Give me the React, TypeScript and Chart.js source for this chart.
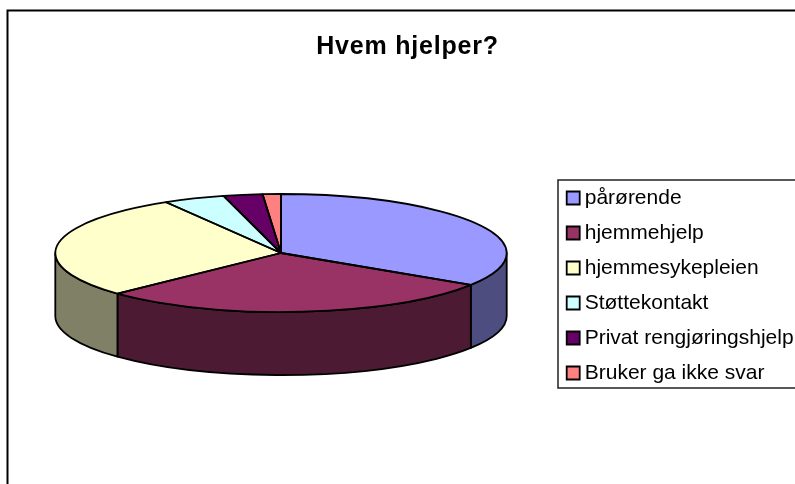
import React, { useEffect, useRef } from "react";
import { Chart, registerables } from "chart.js";

Chart.register(...registerables);

const titleText = "Hvem hjelper?";
const categories = [
  "pårørende",
  "hjemmehjelp",
  "hjemmesykepleien",
  "Støttekontakt",
  "Privat rengjøringshjelp",
  "Bruker ga ikke svar",
];
const shares = [34.1, 28.8, 28.6, 4.4, 2.8, 1.3];
const sliceColors = ["#9999ff", "#993366", "#ffffcc", "#ccffff", "#660066", "#ff8080"];

const PIE = { cx: 281, cy: 253, rx: 225.7, ry: 59, depth: 63 };
const LEGEND = { left: 558, top: 180, bottom: 388, itemsLeft: 552.7, itemsTop: 173.5, textShift: -5.5 };
const FRAME = { left: 7.5, top: 10.5 };
const LEGEND_SPACING = "0px";
const TITLE_SPACING = "0.8px";

const halve = (hex: string) => {
  const n = parseInt(hex.slice(1), 16);
  const c = (s: number) => Math.round(((n >> s) & 255) / 2);
  return `rgb(${c(16)},${c(8)},${c(0)})`;
};

const pie3d = {
  id: "pie3d",
  beforeUpdate(chart: any) {
    const wrap = (box: any, spacing: string, shift: number) => {
      if (!box || box.__wrapped) return;
      const draw = box.draw.bind(box);
      box.draw = (...args: any[]) => {
        const ctx = chart.ctx;
        const fillText = ctx.fillText;
        ctx.fillText = (t: string, x: number, y: number, m?: number) =>
          m === undefined
            ? fillText.call(ctx, t, x + shift, y)
            : fillText.call(ctx, t, x + shift, y, m);
        ctx.save();
        ctx.letterSpacing = spacing;
        draw(...args);
        ctx.restore();
        delete ctx.fillText;
      };
      box.__wrapped = true;
    };
    wrap(chart.legend, LEGEND_SPACING, LEGEND.textShift);
    wrap(chart.titleBlock, TITLE_SPACING, 0);
  },
  afterLayout(chart: any) {
    const lg = chart.legend;
    const h = lg.bottom - lg.top;
    lg.left = LEGEND.itemsLeft;
    lg.right = chart.width + 20;
    lg.top = LEGEND.itemsTop;
    lg.bottom = lg.top + h;
  },
  beforeDraw(chart: any) {
    const ctx = chart.ctx;
    ctx.save();
    ctx.strokeStyle = "#000";
    ctx.lineWidth = 2;
    ctx.beginPath();
    ctx.moveTo(FRAME.left, chart.height);
    ctx.lineTo(FRAME.left, FRAME.top);
    ctx.lineTo(chart.width, FRAME.top);
    ctx.stroke();
    ctx.lineWidth = 1.5;
    ctx.strokeStyle = "#222";
    ctx.beginPath();
    ctx.moveTo(chart.width, LEGEND.top);
    ctx.lineTo(LEGEND.left, LEGEND.top);
    ctx.lineTo(LEGEND.left, LEGEND.bottom);
    ctx.lineTo(chart.width, LEGEND.bottom);
    ctx.stroke();
    ctx.restore();
  },
  beforeDatasetsDraw(chart: any) {
    const ctx = chart.ctx;
    const arcs = chart.getDatasetMeta(0).data;
    const colors = chart.data.datasets[0].backgroundColor;
    const { cx, cy, rx, ry, depth } = PIE;
    ctx.save();
    ctx.strokeStyle = "#000";
    ctx.lineWidth = 1.8;
    ctx.lineJoin = "round";
    arcs.forEach((a: any, i: number) => {
      // keep only the part of each slice on the front half of the ellipse (canvas angles 0..PI)
      for (const shift of [0, Math.PI * 2, -Math.PI * 2]) {
        const s = Math.max(a.startAngle + shift, 0);
        const e = Math.min(a.endAngle + shift, Math.PI);
        if (e <= s) continue;
        ctx.beginPath();
        ctx.ellipse(cx, cy, rx, ry, 0, s, e);
        ctx.ellipse(cx, cy + depth, rx, ry, 0, e, s, true);
        ctx.closePath();
        ctx.fillStyle = halve(colors[i]);
        ctx.fill();
        ctx.stroke();
      }
    });
    ctx.restore();
  },
  beforeDatasetDraw(chart: any) {
    const ctx = chart.ctx;
    const a = chart.getDatasetMeta(0).data[0];
    ctx.save();
    ctx.translate(PIE.cx, PIE.cy);
    ctx.scale(1, PIE.ry / PIE.rx);
    ctx.translate(-a.x, -a.y);
  },
  afterDatasetDraw(chart: any) {
    chart.ctx.restore();
  },
  afterDatasetsDraw(chart: any) {
    const ctx = chart.ctx;
    const arcs = chart.getDatasetMeta(0).data;
    const { cx, cy, rx, ry } = PIE;
    ctx.save();
    ctx.strokeStyle = "#000";
    ctx.lineWidth = 1.8;
    ctx.lineJoin = "round";
    arcs.forEach((a: any) => {
      ctx.beginPath();
      ctx.moveTo(cx, cy);
      ctx.ellipse(cx, cy, rx, ry, 0, a.startAngle, a.endAngle);
      ctx.closePath();
      ctx.stroke();
    });
    ctx.restore();
  },
};

export default function App() {
  const ref = useRef<HTMLCanvasElement | null>(null);
  useEffect(() => {
    document.body.style.margin = "0";
    document.body.style.overflow = "hidden";
    const chart = new Chart(ref.current as HTMLCanvasElement, {
      type: "pie",
      data: {
        labels: categories,
        datasets: [
          {
            data: shares,
            backgroundColor: sliceColors,
            borderWidth: 0,
            clip: false,
          } as any,
        ],
      },
      options: {
        responsive: false,
        animation: false,
        radius: PIE.rx,
        layout: { padding: { left: 20, top: 0, right: 0, bottom: 0 } },
        plugins: {
          tooltip: { enabled: false },
          title: {
            display: true,
            text: titleText,
            color: "#000",
            font: { family: "'Liberation Sans', Arial, sans-serif", size: 25, weight: "bold" },
            padding: { top: 32, bottom: 10 },
          },
          legend: {
            position: "right",
            align: "start",
            labels: {
              color: "#000",
              font: { family: "'Liberation Sans', Arial, sans-serif", size: 21 },
              boxWidth: 13,
              boxHeight: 13,
              padding: 14,
              generateLabels(c: any) {
                return Chart.overrides.pie.plugins.legend.labels
                  .generateLabels(c)
                  .map((it: any) => ({ ...it, strokeStyle: "#000", lineWidth: 1.8 }));
              },
            },
          },
        },
      } as any,
      plugins: [pie3d as any],
    });
    return () => chart.destroy();
  }, []);
  return (
    <div style={{ position: "absolute", left: 0, top: 0, width: 795, height: 484 }}>
      <canvas ref={ref} width={795} height={484} style={{ display: "block" }} />
    </div>
  );
}
